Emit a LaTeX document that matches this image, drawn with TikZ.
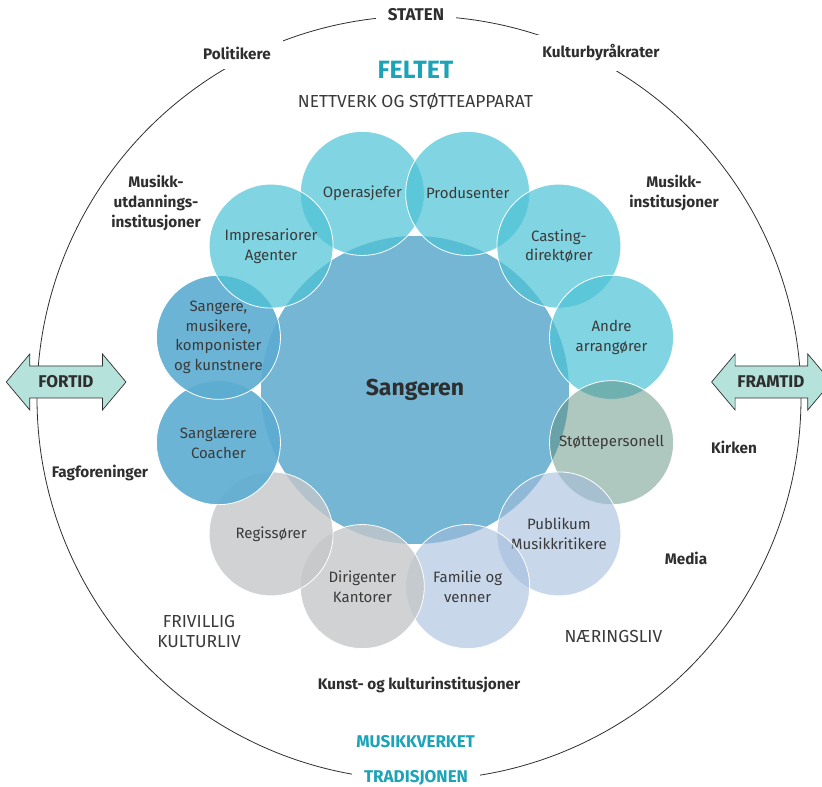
\documentclass[tikz,border=0pt]{standalone}
\usepackage{fontspec}
\setmainfont{Fira Sans}
\definecolor{tekst}{HTML}{2E2E2E}
\definecolor{ringtekst}{HTML}{3A3A3A}
\definecolor{feltblue}{HTML}{1BA3B8}
\definecolor{kjerne}{HTML}{74B6D3}
\definecolor{nettverk}{HTML}{4CC2D5}
\definecolor{kunstner}{HTML}{5CACD1}
\definecolor{stotte}{HTML}{5D8F7F}
\definecolor{publikum}{HTML}{A3BCDC}
\definecolor{regi}{HTML}{C5C7C9}
\definecolor{pilfarge}{HTML}{B5E2DA}
\begin{document}
\begin{tikzpicture}[x=1pt, y=1pt,
  bold/.style={font=\fontsize{15.3}{20}\selectfont\bfseries, text=tekst, align=center},
  boldcaps/.style={font=\fontsize{17}{20}\selectfont\bfseries, text=tekst, align=center},
  caps/.style={font=\fontsize{17.4}{20}\selectfont, text=ringtekst, align=center},
  gap/.style={fill=white, inner xsep=12pt, inner ysep=10pt},
  pil/.style={draw=tekst, line width=0.7pt, fill=pilfarge},
  ring/.style={circle, draw=white, line width=0.8pt, minimum size=124pt, inner sep=0pt,
    align=center, text=ringtekst, text opacity=1, font=\fontsize{15}{19.7}\selectfont},
  nett/.style={ring, fill=nettverk, fill opacity=0.7},
  kunst/.style={ring, fill=kunstner, fill opacity=0.9},
  stotte/.style={ring, fill=stotte, fill opacity=0.5},
  publ/.style={ring, fill=publikum, fill opacity=0.6},
  regi/.style={ring, fill=regi, fill opacity=0.8}]
\clip (-419,-389) rectangle (403,398);
\draw[line width=0.8pt, tekst] (0,0) circle[radius=382];
% time arrows
\draw[pil] (-412.7,16) -- ++(23.5,28) -- ++(0,-12) -- ++(72.7,0) -- ++(0,12) -- ++(23.5,-28)
  -- ++(-23.5,-28) -- ++(0,12) -- ++(-72.7,0) -- ++(0,-12) -- cycle;
\draw[pil] (292.6,16) -- ++(23.5,28) -- ++(0,-12) -- ++(72.7,0) -- ++(0,12) -- ++(23.5,-28)
  -- ++(-23.5,-28) -- ++(0,12) -- ++(-72.7,0) -- ++(0,-12) -- cycle;
\node[boldcaps] (fortid) at (-353,16) {FORTID};
\node[boldcaps] (framtid) at (352,16) {FRAMTID};
% the singer and the network around
\begin{scope}[shift={(-4,8)}]
\node[circle, fill=kjerne, minimum size=308pt, text=tekst, font=\fontsize{23}{28}\selectfont\bfseries] (sangeren) at (0,0) {Sangeren};
\node[nett] (operasjefer) at (105:203.5) {Operasjefer};
\node[nett] (produsenter) at (75:203.5) {Produsenter};
\node[nett] (casting) at (45:203.5) {Casting-\\direktører};
\node[nett] (arrangorer) at (15:203.5) {Andre\\arrangører};
\node[stotte] (stottepersonell) at (-15:203.5) {Støttepersonell};
\node[publ] (publikum) at (-45:203.5) {Publikum\\Musikkritikere};
\node[publ] (familie) at (-75:203.5) {Familie og\\venner};
\node[regi] (dirigenter) at (-105:203.5) {Dirigenter\\Kantorer};
\node[regi] (regissorer) at (-135:203.5) {Regissører};
\node[kunst] (sanglarere) at (-165:203.5) {Sanglærere\\Coacher};
\node[kunst] (sangere) at (165:203.5) {Sangere,\\musikere,\\komponister\\og kunstnere};
\node[nett] (impresarier) at (135:203.5) {Impresariorer\\Agenter};
\end{scope}
% labels on the ring
\node[boldcaps, gap] (staten) at (-3,383) {STATEN};
\node[bold, gap] (politikere) at (-182,345) {Politikere};
\node[bold, gap] (byrakrater) at (182,345) {Kulturbyråkrater};
\node[boldcaps, gap, text=feltblue] (tradisjonen) at (-3,-380) {TRADISJONEN};
% the field
\node[font=\fontsize{25}{28}\selectfont\bfseries, text=feltblue] (feltet) at (-3.5,328) {FELTET};
\node[caps] (nettverkstekst) at (-3.5,297) {NETTVERK OG STØTTEAPPARAT};
\node[bold] (utdanning) at (-263,195) {Musikk-\\utdannings-\\institusjoner};
\node[bold] (musikkinst) at (255,205) {Musikk-\\institusjoner};
\node[bold] (fagforeninger) at (-319,-75) {Fagforeninger};
\node[bold] (kirken) at (315,-49) {Kirken};
\node[bold] (media) at (267,-160) {Media};
\node[caps] (frivillig) at (-220,-234) {FRIVILLIG\\KULTURLIV};
\node[caps] (naringsliv) at (194.5,-239) {NÆRINGSLIV};
\node[bold] (kunstinst) at (0,-287) {Kunst- og kulturinstitusjoner};
\node[boldcaps, text=feltblue] (musikkverket) at (-3.4,-343.7) {MUSIKKVERKET};
\end{tikzpicture}
\end{document}
